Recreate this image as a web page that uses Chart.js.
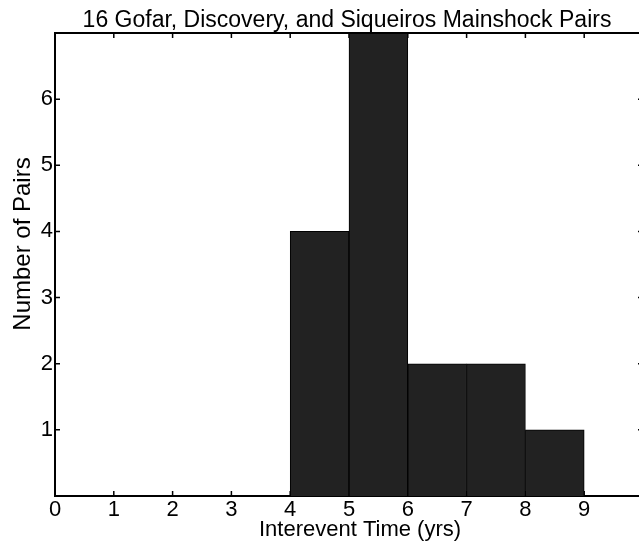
<!DOCTYPE html>
<html>
<head>
<meta charset="utf-8">
<script src="https://cdn.jsdelivr.net/npm/chart.js@4/dist/chart.umd.min.js"></script>
<style>
  html, body { margin: 0; padding: 0; overflow: hidden; background: #fff; }
  canvas { display: block; }
</style>
</head>
<body>
<canvas id="c" width="650" height="546"></canvas>
<script>
// Histogram of interevent times between mainshock pairs
const chartTitle = '16 Gofar, Discovery, and Siqueiros Mainshock Pairs';
const xAxisTitle = 'Interevent Time (yrs)';
const yAxisTitle = 'Number of Pairs';

const binStarts = [4, 5, 6, 7, 8];   // left edge of each 1-year bin
const binWidth = 1;
const pairCounts = [4, 7, 2, 2, 1];

const xTickLabels = [0, 1, 2, 3, 4, 5, 6, 7, 8, 9];
const yTickLabels = [1, 2, 3, 4, 5, 6];
const xRange = [0, 10];
const yRange = [0, 7];

const FONT = '"Liberation Sans", Arial, Helvetica, sans-serif';

const points = binStarts.map((s, i) => ({ x: s + binWidth / 2, y: pairCounts[i] }));

// inward tick marks on all four sides, drawn underneath the bars
const frameTicks = {
  id: 'frameTicks',
  beforeDatasetsDraw(chart) {
    const { ctx, chartArea: a, scales: { x, y } } = chart;
    const len = 5;
    ctx.save();
    ctx.strokeStyle = '#000';
    ctx.lineWidth = 1.5;
    ctx.beginPath();
    for (let v = xRange[0] + 1; v <= xRange[1]; v++) {
      const px = x.getPixelForValue(v);
      ctx.moveTo(px, a.bottom); ctx.lineTo(px, a.bottom - len);
      ctx.moveTo(px, a.top); ctx.lineTo(px, a.top + len);
    }
    for (let v = yRange[0] + 1; v < yRange[1]; v++) {
      const py = y.getPixelForValue(v);
      ctx.moveTo(a.left, py); ctx.lineTo(a.left + len, py);
      ctx.moveTo(a.right, py); ctx.lineTo(a.right - len, py);
    }
    ctx.stroke();
    ctx.restore();
  },
  afterDraw(chart) {
    const { ctx, chartArea: a } = chart;
    ctx.save();
    // top frame line
    ctx.strokeStyle = '#000';
    ctx.lineWidth = 2;
    ctx.beginPath();
    ctx.moveTo(a.left - 1, a.top);
    ctx.lineTo(a.right, a.top);
    ctx.stroke();

    ctx.fillStyle = '#000';
    ctx.textAlign = 'center';
    ctx.textBaseline = 'alphabetic';
    ctx.font = '23px ' + FONT;
    ctx.fillText(chartTitle, 347, 27);

    ctx.font = '22px ' + FONT;
    ctx.fillText(xAxisTitle, 360, 536);

    ctx.translate(30, 244);
    ctx.rotate(-Math.PI / 2);
    ctx.font = '24px ' + FONT;
    ctx.fillText(yAxisTitle, 0, 0);
    ctx.restore();
  }
};

new Chart(document.getElementById('c'), {
  type: 'bar',
  data: {
    datasets: [{
      data: points,
      backgroundColor: '#222222',
      borderColor: '#000000',
      borderWidth: 1,
      barPercentage: 1.0,
      categoryPercentage: 1.0
    }]
  },
  options: {
    responsive: false,
    devicePixelRatio: 1,
    animation: false,
    events: [],
    layout: { padding: { top: 33, right: 7, left: 0, bottom: 0 } },
    plugins: { legend: { display: false }, tooltip: { enabled: false }, title: { display: false } },
    scales: {
      x: {
        type: 'linear',
        min: xRange[0],
        max: xRange[1],
        offset: false,
        afterFit(s) { s.height = 50; },
        grid: { display: false, drawTicks: false },
        border: { display: true, color: '#000', width: 2 },
        ticks: {
          stepSize: 1,
          padding: 1,
          color: '#000',
          font: { family: FONT, size: 22 },
          maxRotation: 0,
          autoSkip: false,
          callback: (v) => xTickLabels.includes(v) ? String(v) : ''
        }
      },
      y: {
        min: yRange[0],
        max: yRange[1],
        afterFit(s) { s.width = 55; },
        grid: { display: false, drawTicks: false },
        border: { display: true, color: '#000', width: 2 },
        ticks: {
          stepSize: 1,
          padding: 2,
          color: '#000',
          font: { family: FONT, size: 22 },
          autoSkip: false,
          callback: (v) => yTickLabels.includes(v) ? String(v) : ''
        }
      }
    }
  },
  plugins: [frameTicks]
});
</script>
</body>
</html>
